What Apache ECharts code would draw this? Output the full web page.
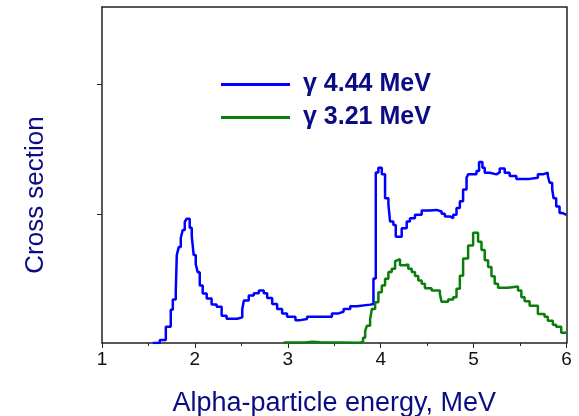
<!DOCTYPE html>
<html style="height: 100%">
  <head>
    <meta charset="utf-8" />
    <title>Cross section</title>
    <script src="https://cdn.jsdelivr.net/npm/echarts@6/dist/echarts.min.js"></script>
  </head>
  <body style="height: 100%; margin: 0; background: #fff">
    <div id="main" style="width: 579px; height: 416px"></div>
    <script type="text/javascript">
      // step histograms: left edge of each bin and its height
      var blueName = "\u03b3 4.44 MeV";
      var blueE = [1.547, 1.622, 1.687, 1.74, 1.762, 1.794, 1.805, 1.826, 1.848, 1.869, 1.891, 1.912, 1.944, 1.966, 1.987, 2.009, 2.03, 2.052, 2.084, 2.127, 2.18, 2.234, 2.288, 2.341, 2.456, 2.51, 2.527, 2.58, 2.634, 2.688, 2.741, 2.778, 2.832, 2.885, 2.939, 2.992, 3.082, 3.135, 3.207, 3.475, 3.546, 3.6, 3.672, 3.744, 3.886, 3.922, 3.947, 3.975, 4.012, 4.047, 4.083, 4.101, 4.136, 4.162, 4.226, 4.28, 4.315, 4.369, 4.441, 4.53, 4.602, 4.656, 4.691, 4.745, 4.78, 4.816, 4.852, 4.887, 4.924, 4.941, 5.031, 5.059, 5.095, 5.12, 5.174, 5.246, 5.281, 5.335, 5.388, 5.46, 5.603, 5.692, 5.746, 5.799, 5.818, 5.846, 5.861, 5.889, 5.925, 5.96, 6.0];
      var blueV = [0, 0.023, 0.125, 0.258, 0.336, 0.398, 0.68, 0.742, 0.813, 0.875, 0.938, 0.961, 0.891, 0.828, 0.68, 0.609, 0.547, 0.445, 0.383, 0.344, 0.297, 0.281, 0.211, 0.188, 0.198, 0.263, 0.328, 0.367, 0.385, 0.406, 0.385, 0.349, 0.302, 0.263, 0.229, 0.203, 0.177, 0.185, 0.203, 0.229, 0.242, 0.263, 0.284, 0.297, 0.302, 0.5, 1.32, 1.357, 1.305, 1.12, 1.07, 0.94, 0.914, 0.823, 0.888, 0.94, 0.966, 0.992, 1.026, 1.03, 1.018, 1.0, 0.979, 0.966, 0.992, 1.044, 1.096, 1.188, 1.279, 1.305, 1.33, 1.4, 1.357, 1.318, 1.305, 1.32, 1.35, 1.318, 1.292, 1.27, 1.279, 1.305, 1.318, 1.292, 1.24, 1.19, 1.12, 1.057, 1.005, 0.992, 0.992];

      var greenName = "\u03b3 3.21 MeV";
      var greenE = [2.956, 3.189, 3.261, 3.35, 3.779, 3.81, 3.833, 3.851, 3.886, 3.905, 3.94, 3.975, 4.012, 4.047, 4.083, 4.119, 4.155, 4.173, 4.208, 4.262, 4.297, 4.334, 4.369, 4.404, 4.441, 4.476, 4.548, 4.637, 4.655, 4.726, 4.78, 4.816, 4.852, 4.887, 4.941, 4.995, 5.048, 5.085, 5.12, 5.156, 5.192, 5.227, 5.263, 5.37, 5.478, 5.514, 5.549, 5.603, 5.692, 5.764, 5.799, 5.853, 5.889, 5.943, 6.0];
      var greenV = [0.003, 0.01, 0.005, 0.002, 0.01, 0.04, 0.094, 0.133, 0.185, 0.263, 0.315, 0.393, 0.445, 0.497, 0.549, 0.575, 0.633, 0.648, 0.602, 0.607, 0.575, 0.549, 0.518, 0.484, 0.458, 0.424, 0.406, 0.38, 0.32, 0.336, 0.354, 0.419, 0.521, 0.654, 0.755, 0.853, 0.784, 0.719, 0.641, 0.588, 0.516, 0.459, 0.427, 0.438, 0.406, 0.354, 0.323, 0.289, 0.224, 0.203, 0.172, 0.141, 0.125, 0.08, 0.08];

      var xTicks = [1, 2, 3, 4, 5, 6];
      var yTicks = [1, 2];

      function pairs(xs, ys) {
        var out = [];
        for (var i = 0; i < xs.length; i++) out.push([xs[i], ys[i]]);
        return out;
      }

      var navy = "#0b0b84";
      var frame = { show: true, onZero: false, lineStyle: { color: "#222", width: 1.5 } };
      var font = "Liberation Sans, Arial";
      var myChart = echarts.init(document.getElementById("main"));

      var option = {
        animation: false,
        grid: { left: 102, right: 12.5, top: 7, bottom: 73, outerBoundsMode: "none" },
        graphic: [
          {
            type: "text",
            x: 36,
            y: 195,
            rotation: Math.PI / 2,
            style: {
              text: "Cross section",
              fill: navy,
              fontSize: 26,
              fontFamily: font,
              align: "center",
              verticalAlign: "middle",
            },
          },
        ],
        legend: {
          left: 216,
          top: 67,
          orient: "vertical",
          icon: "rect",
          itemWidth: 69,
          itemHeight: 3,
          itemGap: 8,
          textStyle: {
            color: navy,
            fontFamily: font,
            fontWeight: "bold",
            fontSize: 25,
            padding: [0, 0, 0, 8],
            lineHeight: 25,
          },
          data: [blueName, greenName],
        },
        xAxis: [
          {
            type: "value",
            min: xTicks[0],
            max: xTicks[xTicks.length - 1],
            interval: 1,
            name: "Alpha-particle energy, MeV",
            nameLocation: "middle",
            nameGap: 47,
            nameTextStyle: { color: navy, fontSize: 27, fontFamily: font },
            axisLine: frame,
            axisTick: { length: 5, lineStyle: { color: "#222" } },
            minorTick: { show: true, splitNumber: 2, length: 3, lineStyle: { color: "#222" } },
            axisLabel: { color: "#111", fontSize: 19, margin: 7, fontFamily: font },
            splitLine: { show: false },
          },
          {
            type: "value",
            position: "top",
            min: xTicks[0],
            max: xTicks[xTicks.length - 1],
            axisLine: frame,
            axisTick: { show: false },
            axisLabel: { show: false },
            splitLine: { show: false },
          },
        ],
        yAxis: [
          {
            type: "value",
            min: 0,
            max: 2.6,
            interval: 1,
            axisLine: frame,
            axisTick: { length: 5, customValues: yTicks, lineStyle: { color: "#222" } },
            axisLabel: { show: false },
            splitLine: { show: false },
          },
          {
            type: "value",
            position: "right",
            min: 0,
            max: 2.6,
            axisLine: frame,
            axisTick: { show: false },
            axisLabel: { show: false },
            splitLine: { show: false },
          },
        ],
        series: [
          {
            name: blueName,
            type: "line",
            step: "end",
            symbol: "none",
            itemStyle: { color: "#0000ff" },
            lineStyle: { color: "#0000ff", width: 2.5 },
            data: pairs(blueE, blueV),
          },
          {
            name: greenName,
            type: "line",
            step: "end",
            symbol: "none",
            itemStyle: { color: "#0a7d0a" },
            lineStyle: { color: "#0a7d0a", width: 2.5 },
            data: pairs(greenE, greenV),
          },
        ],
      };

      myChart.setOption(option);
    </script>
  </body>
</html>
